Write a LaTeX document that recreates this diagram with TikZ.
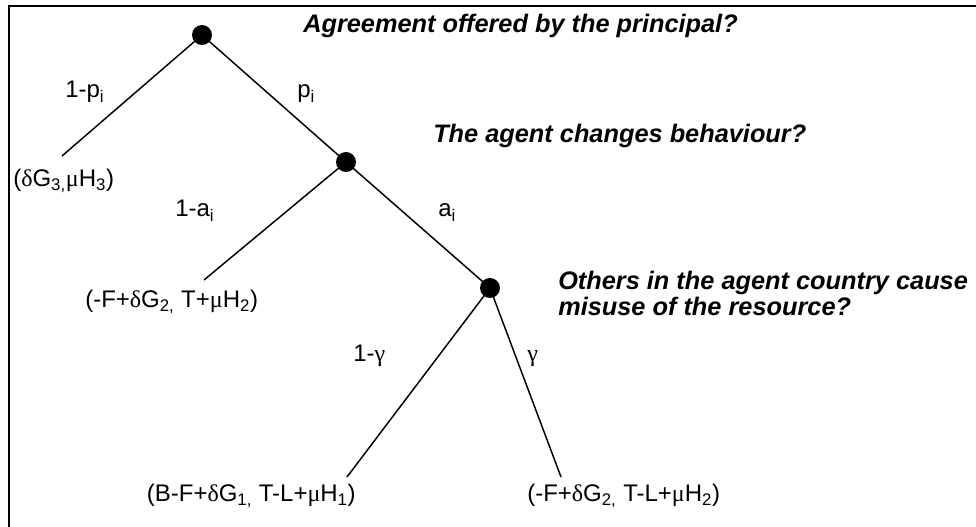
\documentclass[tikz,border=0pt]{standalone}
\usepackage{fontspec}
\setmainfont{Liberation Sans}
\newfontfamily\grk{Liberation Serif}
\newcommand{\gD}{{\grk δ}}
\newcommand{\gM}{{\grk μ}}
\newcommand{\gG}{{\grk γ}}
\newcommand{\sbs}[1]{\textsubscript{#1}}
\begin{document}
\begin{tikzpicture}[x=0.75pt,y=-0.75pt,
  dot/.style={circle,fill=black,inner sep=0pt,minimum size=15pt},
  edge/.style={line width=1.1pt},
  lbl/.style={inner sep=0pt,font=\fontsize{18}{21}\selectfont},
  ques/.style={inner sep=0pt,font=\fontsize{19}{22}\selectfont\bfseries\itshape}]
\useasboundingbox (0,0) rectangle (976,527);
\draw[line width=1.5pt] (9,535) -- (9,6) -- (985,6);
% decision nodes
\coordinate (r) at (202,35);
\coordinate (m) at (346,162);
\coordinate (s) at (490,288);
\coordinate (l1) at (62,156);
\coordinate (l2) at (204,280);
\coordinate (l3) at (347,477);
\coordinate (l4) at (561,477);
\draw[edge] (r) -- (l1);
\draw[edge] (r) -- (m);
\draw[edge] (m) -- (l2);
\draw[edge] (m) -- (s);
\draw[edge] (s) -- (l3);
\draw[edge] (s) -- (l4);
\node[dot] (nr) at (r) {};
\node[dot] (nm) at (m) {};
\node[dot] (ns) at (s) {};
% questions
\node[ques,anchor=base west] (q1) at (303,33) {Agreement offered by the principal?};
\node[ques,anchor=base west] (q2) at (433,143) {The agent changes behaviour?};
\node[ques,anchor=base west] (q3a) at (558,290) {Others in the agent country cause};
\node[ques,anchor=base west] (q3b) at (558,316) {misuse of the resource?};
% edge labels
\node[lbl,anchor=base west] (e1) at (65,98) {1-p\sbs{i}};
\node[lbl,anchor=base west] (e2) at (297,98) {p\sbs{i}};
\node[lbl,anchor=base west] (e3) at (175,217) {1-a\sbs{i}};
\node[lbl,anchor=base west] (e4) at (438,217) {a\sbs{i}};
\node[lbl,anchor=base west] (e5) at (353,362) {1-\gG};
\node[lbl,anchor=base west] (e6) at (527,362) {\gG};
% payoffs
\node[lbl,anchor=base west] (p1) at (13,187) {(\gD G\sbs{3,}\gM H\sbs{3})};
\node[lbl,anchor=base west] (p2) at (85,308) {(-F+\gD G\sbs{2,} T+\gM H\sbs{2})};
\node[lbl,anchor=base east] (p3) at (356,502) {(B-F+\gD G\sbs{1,} T-L+\gM H\sbs{1})};
\node[lbl,anchor=base west] (p4) at (527,502) {(-F+\gD G\sbs{2,} T-L+\gM H\sbs{2})};
\end{tikzpicture}
\end{document}
